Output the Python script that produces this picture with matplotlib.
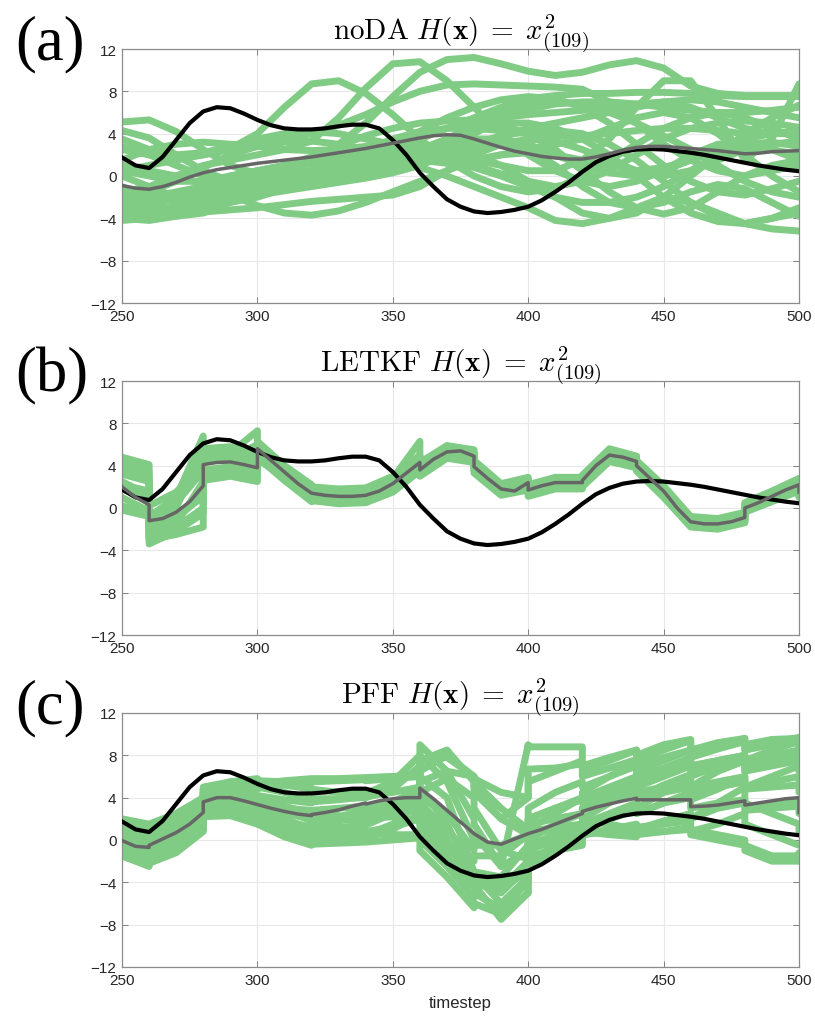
import matplotlib
matplotlib.use("Agg")
import matplotlib.pyplot as plt
import numpy as np

plt.rcParams['mathtext.fontset'] = 'cm'
plt.rcParams['font.family'] = ['Liberation Sans', 'DejaVu Sans']

# truth and (a) ensemble mean, every 5 timesteps from 250 to 500
truth = [1.75, 1.0, 0.75, 1.8, 3.4, 5.0, 6.1, 6.5, 6.4, 5.9, 5.3, 4.8, 4.5, 4.4, 4.4, 4.5,
         4.7, 4.85, 4.85, 4.5, 3.4, 2.0, 0.3, -1.0, -2.2, -2.9, -3.35, -3.5, -3.4, -3.2,
         -2.9, -2.3, -1.5, -0.6, 0.4, 1.3, 1.9, 2.3, 2.5, 2.55, 2.5, 2.35, 2.2, 2.0, 1.75,
         1.5, 1.25, 1.0, 0.8, 0.6, 0.45]
mean_noda = [-0.9, -1.15, -1.25, -1.0, -0.6, -0.1, 0.3, 0.6, 0.8, 1.0, 1.2, 1.35, 1.5, 1.65,
             1.8, 2.0, 2.2, 2.4, 2.6, 2.85, 3.1, 3.35, 3.6, 3.8, 3.9, 3.85, 3.5, 3.1, 2.7,
             2.35, 2.1, 1.85, 1.7, 1.6, 1.6, 1.8, 2.1, 2.45, 2.7, 2.8, 2.8, 2.7, 2.6, 2.5,
             2.4, 2.25, 2.1, 2.15, 2.3, 2.35, 2.4]

# (a) free-running members, every 10 timesteps
members_noda = [
    [5.1, 5.3, 4.2, 2.5, 1.0, 0.2, 0.0, 0.5, 1.5, 2.5, 3.0, 2.8, 2.0, 1.0, 0.2, -0.5, -1.0, -0.5, 0.5, 2.0, 3.5, 4.5, 5.0, 5.2, 5.0, 4.6],
    [4.3, 3.6, 2.0, 0.5, -0.5, -1.0, -1.2, -0.8, 0.2, 1.5, 2.8, 4.2, 5.5, 6.5, 7.2, 7.5, 7.3, 6.5, 5.0, 3.0, 1.0, -0.5, -1.5, -1.8, -1.2, -0.5],
    [2.5, 2.0, 1.8, 2.0, 2.6, 4.0, 6.5, 8.7, 9.0, 7.8, 5.8, 3.5, 1.5, 0.0, -1.0, -1.5, -1.2, 0.0, 1.5, 3.0, 4.5, 5.5, 6.0, 5.5, 4.5, 3.5],
    [-1.5, -1.0, 0.0, 1.0, 1.5, 2.0, 2.5, 3.3, 5.5, 8.3, 10.6, 10.8, 9.0, 6.5, 4.0, 2.0, 0.5, -0.5, -1.0, -0.5, 0.5, 2.0, 3.0, 3.2, 2.5, 1.5],
    [-2.5, -2.0, -1.5, -1.0, -0.5, 0.0, 0.5, 1.5, 3.0, 5.0, 7.5, 9.8, 11.0, 11.2, 10.6, 9.9, 9.5, 9.8, 10.5, 10.9, 10.2, 8.5, 7.8, 7.6, 7.6, 7.6],
    [0.5, 1.0, 1.5, 2.0, 2.5, 3.0, 3.5, 4.0, 4.8, 5.8, 7.0, 8.0, 8.6, 8.7, 8.6, 8.5, 8.4, 8.2, 7.0, 5.0, 3.0, 1.5, 0.5, 0.0, 0.5, 1.0],
    [-3.0, -2.5, -2.0, -1.5, -1.0, -0.5, 0.0, 0.5, 1.0, 1.5, 2.0, 2.2, 2.0, 1.5, 1.0, 0.5, 0.5, 1.5, 3.5, 6.5, 9.0, 9.0, 5.5, 1.5, 3.5, 8.7],
    [-3.8, -3.5, -3.0, -2.5, -2.0, -1.5, -1.0, -0.5, 0.0, 0.5, 1.0, 1.8, 2.8, 4.0, 5.3, 6.3, 6.8, 7.0, 7.0, 6.8, 6.5, 6.2, 6.0, 6.0, 6.2, 6.5],
    [-4.2, -4.0, -3.7, -3.4, -3.2, -3.0, -2.7, -2.4, -2.2, -2.0, -1.8, -1.0, 0.5, 2.0, 3.0, 3.5, 3.3, 2.5, 1.5, 0.5, 0.0, 0.5, 1.5, 2.5, 3.0, 3.3],
    [1.0, 0.5, 0.0, -0.8, -1.8, -2.8, -3.5, -3.7, -3.3, -2.5, -1.5, -0.5, 0.5, 1.5, 2.0, 2.2, 2.0, 1.5, 1.0, 0.5, 0.8, 1.5, 2.5, 3.5, 4.0, 4.2],
    [-3.0, -3.5, -3.2, -2.5, -1.5, -0.5, 0.5, 1.2, 1.8, 2.3, 2.8, 3.5, 4.5, 5.0, 4.8, 4.0, 2.5, 0.5, -1.5, -3.0, -3.6, -3.0, -1.5, 0.0, 1.0, 1.5],
    [0.0, -1.0, -2.0, -2.5, -2.5, -2.0, -1.2, -0.5, 0.3, 1.0, 1.8, 2.5, 3.5, 4.8, 6.0, 6.8, 7.0, 6.8, 6.0, 5.0, 3.8, 2.5, 1.0, -0.5, -1.5, -2.0],
    [-2.0, -3.0, -3.8, -3.5, -2.5, -1.0, 0.5, 1.5, 2.0, 2.3, 2.5, 2.6, 2.5, 2.0, 1.0, -0.5, -2.0, -3.5, -4.0, -3.5, -2.0, 0.0, 2.0, 4.0, 5.5, 6.7],
    [-1.0, -2.0, -2.5, -2.0, -1.0, 0.0, 0.8, 1.2, 1.5, 1.8, 2.0, 2.5, 3.5, 4.5, 5.0, 5.0, 4.5, 3.5, 2.0, 0.0, -2.0, -3.5, -4.3, -4.5, -4.0, -3.5],
    [2.8, 2.0, 1.0, 0.0, -0.5, -0.8, -1.0, -0.8, -0.3, 0.3, 1.0, 2.0, 3.0, 3.5, 3.5, 3.0, 2.0, 1.0, 0.3, 0.0, 0.5, 1.5, 2.5, 3.0, 2.5, 2.0],
    [-3.5, -3.0, -2.0, -1.0, 0.0, 0.5, 1.0, 1.3, 1.5, 1.5, 1.3, 0.8, 0.0, -1.0, -2.0, -3.0, -4.2, -4.5, -4.0, -3.0, -2.0, -2.5, -3.5, -4.5, -5.0, -5.2],
    [-2.5, -3.0, -3.0, -2.5, -1.8, -1.0, -0.3, 0.5, 1.5, 2.5, 3.5, 4.2, 4.5, 4.5, 4.3, 4.0, 3.8, 3.8, 4.0, 4.3, 4.5, 4.5, 4.3, 4.0, 4.0, 4.2],
    [-4.0, -4.2, -3.8, -3.0, -2.0, -1.2, -0.5, 0.0, 0.5, 1.0, 1.5, 1.8, 1.5, 0.8, 0.0, -1.0, -2.0, -2.5, -2.5, -2.0, -1.0, 0.5, 2.0, 3.0, 3.2, 2.8],
    [0.5, 0.0, -0.5, -0.5, 0.0, 0.5, 1.0, 1.8, 2.8, 3.8, 4.5, 5.0, 5.2, 5.3, 5.5, 5.8, 6.0, 6.2, 6.5, 6.8, 7.0, 6.5, 5.5, 4.5, 4.0, 4.0],
    [-3.0, -3.2, -3.0, -2.6, -2.2, -1.8, -1.4, -1.0, -0.6, -0.2, 0.3, 1.0, 2.0, 3.0, 3.8, 4.2, 4.3, 4.0, 3.0, 1.5, -0.5, -2.5, -3.8, -4.5, -4.0, -3.0],
    [1.5, 2.5, 3.0, 3.2, 3.0, 2.8, 2.5, 2.4, 2.5, 2.8, 3.2, 3.8, 4.5, 5.5, 6.5, 7.3, 7.6, 7.8, 7.8, 7.9, 7.9, 7.8, 7.6, 7.5, 7.5, 7.5],
    [-2.0, -1.5, -0.5, 0.8, 2.0, 2.8, 3.2, 3.3, 3.0, 2.5, 2.0, 1.5, 1.2, 1.5, 2.0, 2.5, 3.0, 3.5, 4.5, 5.5, 6.0, 5.5, 4.0, 2.0, 0.0, -1.5],
    [-1.2, -1.8, -2.2, -2.0, -1.5, -1.0, -0.5, 0.0, 0.3, 0.5, 0.8, 1.2, 1.8, 2.5, 3.0, 2.5, 1.0, -1.0, -2.5, -3.0, -2.5, -1.5, -0.8, -1.2, -2.5, -3.8],
    [3.5, 2.5, 2.0, 2.2, 2.8, 3.5, 4.0, 4.2, 4.0, 3.5, 3.0, 2.5, 2.5, 3.0, 3.8, 4.5, 5.0, 5.5, 6.0, 6.5, 7.0, 7.2, 7.0, 6.5, 6.0, 5.5],
]

# (b),(c) ensemble means: every 5 timesteps, two values (before/after update) at each analysis time
mean_letkf = [2.0, 1.0, 0.3, -1.2, -1.0, -0.4, 0.6, 2.1, 4.1, 4.3, 4.35, 4.1, 3.8, 5.6,
              4.5, 3.4, 2.3, 1.4, 1.4, 1.2, 1.1, 1.1, 1.2, 1.2, 1.6, 2.3, 3.3, 4.3, 3.6,
              4.6, 5.3, 5.4, 4.9, 3.9, 2.8, 1.8, 1.6, 2.4, 1.7, 2.1, 2.4, 2.4, 2.4, 2.6,
              4.0, 5.0, 4.8, 4.4, 4.0, 2.8, 1.6, 0.0, -1.3, -1.3, -1.5, -1.5, -1.3, -0.9,
              0.0, 0.5, 1.1, 1.7, 2.2, 1.5]
mean_pff = [-0.05, -0.6, -0.7, -0.5, 0.1, 0.7, 1.5, 2.6, 3.6, 4.0, 4.0, 3.7, 3.35, 3.35,
            3.0, 2.7, 2.45, 2.3, 2.4, 2.6, 2.85, 3.2, 3.5, 3.4, 3.7, 3.9, 4.0, 4.0, 4.9,
            3.9, 2.8, 1.7, 0.6, 0.6, -0.2, -0.4, 0.1, 0.6, 0.6, 1.0, 1.5, 2.0, 2.5, 2.7,
            3.1, 3.4, 3.7, 3.95, 3.8, 3.8, 3.8, 3.8, 3.8, 3.15, 3.2, 3.3, 3.5, 3.7, 3.3,
            3.5, 3.7, 3.9, 4.0, 2.6]

# (b),(c) members: every 10 timesteps, two values at each analysis time
members_letkf = [
    [4.8, 4.1, -1.0, 0.5, 3.5, 5.6, 5.8, 5.0, 6.3, 4.0, 2.2, 2.0, 1.8, 1.9, 1.9, 3.0, 5.0, 4.3, 5.9, 5.5, 4.5, 2.3, 2.9, 2.2, 2.9, 2.9, 3.1, 5.6, 4.9, 4.5, 2.1, -0.8, -0.8, -1.0, -0.4, 0.5, 1.6, 2.8, 2.0],
    [-0.2, -0.8, -3.4, -2.2, -0.5, 2.6, 3.0, 2.5, 4.8, 2.6, 0.6, 0.7, 0.4, 0.5, 0.5, 1.5, 3.5, 3.0, 4.7, 4.3, 3.3, 1.2, 1.7, 1.1, 1.8, 1.8, 2.0, 4.4, 3.8, 3.5, 1.0, -1.8, -1.8, -2.0, -1.4, -0.4, 0.6, 1.6, 1.0],
    [3.2, 2.5, -0.8, 1.0, 6.8, 5.0, 5.2, 7.3, 5.2, 3.9, 2.0, 1.8, 1.5, 1.6, 1.5, 2.8, 6.3, 4.0, 5.6, 5.2, 4.2, 2.1, 2.7, 2.0, 2.6, 2.6, 2.9, 5.3, 4.6, 4.3, 1.9, -1.0, -1.1, -1.3, -0.6, 0.3, 1.3, 2.6, 1.8],
    [1.0, -0.3, -2.8, -1.8, 0.0, 3.2, 3.6, 3.0, 5.0, 2.8, 0.8, 0.9, 0.6, 0.8, 0.8, 1.8, 3.8, 3.2, 4.9, 4.5, 3.6, 1.4, 2.0, 1.4, 2.1, 2.1, 2.3, 4.7, 4.1, 3.7, 1.3, -1.6, -1.6, -1.8, -1.2, -0.2, 0.8, 1.9, 1.2],
    [2.5, 1.2, -2.2, -1.0, 1.2, 4.8, 4.8, 4.3, 5.9, 3.7, 1.7, 1.6, 1.3, 1.4, 1.4, 2.5, 4.6, 3.8, 5.5, 5.1, 4.1, 2.0, 2.5, 1.9, 2.6, 2.6, 2.8, 5.2, 4.6, 4.2, 1.8, -1.1, -1.1, -1.3, -0.7, 0.2, 1.3, 2.4, 1.7],
    [0.2, -0.5, -1.8, -0.6, 1.0, 3.6, 3.9, 3.4, 5.3, 3.1, 1.0, 1.1, 0.8, 0.9, 0.9, 2.0, 4.0, 3.4, 5.1, 4.7, 3.7, 1.6, 2.2, 1.5, 2.2, 2.2, 2.4, 4.8, 4.2, 3.8, 1.4, -1.5, -1.5, -1.7, -1.1, -0.2, 0.9, 2.0, 1.3],
    [3.8, 2.8, 0.2, 1.5, 4.2, 4.4, 4.6, 4.1, 5.8, 3.5, 1.6, 1.3, 1.2, 1.3, 1.3, 2.4, 4.5, 3.7, 5.4, 5.0, 4.0, 1.9, 2.4, 1.8, 2.5, 2.5, 2.7, 5.1, 4.5, 4.1, 1.7, -1.2, -1.2, -1.4, -0.8, 0.1, 1.2, 2.3, 1.6],
    [1.8, 0.8, -3.0, -2.5, -1.8, 3.0, 3.3, 4.3, 4.6, 2.9, 0.9, 1.0, 0.7, 0.7, 0.7, 1.7, 3.7, 3.1, 4.8, 4.4, 3.5, 1.3, 1.9, 1.3, 2.0, 2.0, 2.2, 4.6, 4.0, 3.6, 1.2, -1.7, -1.7, -1.9, -1.3, -0.3, 0.7, 1.8, 1.1],
    [2.2, 1.6, -1.5, 0.0, 5.5, 4.5, 4.7, 6.0, 5.4, 3.3, 1.5, 1.5, 1.0, 1.1, 1.1, 2.2, 4.3, 3.6, 5.3, 4.9, 3.9, 1.8, 2.4, 1.7, 2.4, 2.4, 2.6, 5.0, 4.4, 4.0, 1.6, -1.3, -1.3, -1.5, -0.9, 0.0, 1.1, 2.2, 1.5],
    [4.3, 3.5, -2.5, -1.5, 2.5, 5.2, 5.3, 4.6, 6.0, 3.8, 1.9, 1.7, 1.5, 1.6, 1.6, 2.7, 4.8, 4.1, 5.7, 5.3, 4.3, 2.2, 2.8, 2.1, 2.8, 2.8, 3.0, 5.4, 4.8, 4.4, 2.0, -0.9, -0.9, -1.1, -0.5, 0.4, 1.5, 2.6, 1.9],
]
members_pff = [
    [0.5, -0.2, 0.2, 1.5, 3.5, 4.5, 5.0, 4.8, 4.9, 5.2, 5.5, 5.5, 5.6, 5.7, 5.6, 5.8, 6.0, 7.5, 8.5, 5.5, 4.5, 2.0, 4.0, 6.7, 6.8, 7.2, 6.0, 6.8, 7.6, 7.0, 7.8, 8.5, 7.8, 8.6, 9.3, 8.5, 9.0, 9.5, 8.8],
    [1.8, 1.0, 1.2, 2.0, 3.0, 4.0, 5.5, 5.6, 5.6, 5.5, 5.4, 5.5, 5.7, 5.8, 5.8, 6.0, 6.2, 9.0, 6.5, 2.0, 1.5, -2.5, 9.0, 8.8, 8.8, 8.8, 7.0, 7.8, 8.5, 7.5, 8.5, 9.4, 8.0, 8.8, 9.6, 8.5, 9.2, 9.7, 8.3],
    [-1.5, -2.5, -2.2, -1.0, 1.0, 3.0, 2.5, 1.5, 1.6, 0.7, 0.0, 0.1, 0.2, 0.5, 0.5, 1.5, 3.5, 2.0, -2.0, -4.5, -4.0, -5.0, -2.5, -1.5, -1.0, -0.5, 0.5, 1.0, 1.5, 1.2, 1.5, 1.8, 1.0, 0.5, 0.0, -0.5, -1.5, -1.5, -1.2],
    [-1.0, -2.0, -1.8, -0.5, 1.5, 3.5, 3.8, 3.0, 3.1, 2.0, 1.0, 1.1, 1.2, 1.4, 1.4, 2.5, 4.5, 3.5, 0.0, -4.0, -4.2, -7.5, -5.0, -2.0, -0.5, 0.5, 1.0, 2.0, 3.0, 2.5, 3.5, 4.5, 3.8, 4.8, 6.0, 5.0, 6.0, 7.0, 6.5],
    [0.8, 0.2, 0.4, 1.5, 3.0, 4.2, 4.5, 4.2, 4.2, 3.8, 3.5, 3.6, 3.8, 4.1, 4.1, 4.5, 5.0, 6.0, 4.0, -3.0, -3.0, -4.5, -2.0, 0.5, 1.0, 1.5, 2.0, 3.5, 5.0, 4.0, 5.2, 6.2, 5.0, 5.5, 6.0, 5.0, 5.5, 6.0, 5.2],
    [0.0, -1.0, -0.8, 0.5, 2.5, 3.8, 4.2, 3.5, 3.5, 2.5, 2.0, 2.0, 2.2, 2.8, 2.8, 3.5, 4.2, 3.5, 1.0, -2.0, -1.5, -1.5, 0.5, 2.0, 3.0, 3.8, 4.0, 5.0, 6.0, 5.5, 6.5, 7.5, 6.5, 7.5, 8.0, 7.2, 8.0, 8.5, 7.0],
    [1.2, 0.5, 0.8, 2.0, 3.8, 4.8, 5.2, 5.0, 5.0, 4.5, 3.8, 3.9, 3.9, 4.0, 4.0, 4.8, 7.0, 5.0, 1.5, -3.5, -3.0, -3.5, -0.5, 0.8, 1.2, 1.5, 1.8, 1.5, 1.0, 1.0, 1.5, 2.5, 2.0, 3.5, 5.0, 3.5, 2.5, 1.5, 0.8],
    [-0.5, -1.5, -1.3, 0.0, 2.0, 3.2, 3.5, 2.8, 2.8, 1.5, 0.3, 0.4, 0.0, 0.2, 0.2, 1.0, 2.5, 1.5, -1.0, -3.0, -3.2, -6.0, -3.5, -1.0, 0.5, 1.2, 1.5, 2.5, 3.5, 3.0, 4.5, 6.0, 5.0, 6.5, 7.5, 6.5, 7.5, 8.2, 7.6],
    [2.0, 1.5, 1.5, 2.5, 4.0, 5.0, 5.5, 5.8, 5.6, 5.2, 4.8, 4.8, 4.5, 4.4, 4.4, 5.5, 8.0, 6.5, 8.0, 6.0, 5.5, 3.0, 1.0, 1.0, 2.5, 4.0, 4.5, 6.0, 7.5, 6.5, 7.5, 8.5, 7.0, 7.5, 8.0, 7.0, 7.8, 8.5, 7.5],
    [-1.2, -2.2, -2.0, -0.8, 1.0, 2.5, 2.8, 2.2, 2.2, 1.0, 0.5, 0.6, 0.6, 0.8, 0.8, 1.2, 2.0, 1.0, -1.5, -3.5, -3.5, -4.0, -2.5, -0.5, 0.0, 0.2, 0.8, 0.5, 0.3, 0.5, 0.8, 1.2, 0.5, 0.0, -0.5, -1.0, -2.0, -2.0, -1.8],
    [0.3, -0.5, -0.3, 1.0, 2.8, 4.0, 4.5, 3.8, 3.8, 3.2, 2.5, 2.6, 2.3, 2.0, 2.0, 2.2, 3.0, 8.0, 5.5, 0.0, 0.5, -2.5, -1.0, 3.0, 4.5, 5.5, 5.0, 6.0, 7.0, 6.0, 6.8, 7.8, 7.0, 7.5, 7.8, 7.0, 7.2, 7.5, 6.5],
    [-0.8, -1.8, -1.5, -0.2, 1.8, 3.0, 3.0, 2.0, 2.0, 1.0, 0.2, 0.3, 0.5, 0.6, 0.6, 0.5, 0.5, 0.0, -2.5, -5.5, -5.0, -6.5, -4.0, -0.5, 0.5, 1.2, 1.0, 2.0, 2.8, 2.5, 3.5, 4.0, 3.0, 3.5, 3.8, 3.0, 3.5, 3.8, 3.0],
    [1.5, 0.8, 1.0, 2.2, 4.0, 4.8, 5.2, 5.3, 5.3, 5.6, 5.8, 5.8, 5.8, 5.9, 5.9, 6.0, 6.0, 5.5, 6.5, 6.0, 5.8, 4.5, 4.0, 5.5, 6.5, 7.5, 6.5, 7.5, 8.5, 8.0, 9.0, 9.5, 8.5, 9.2, 9.6, 9.0, 9.5, 9.6, 9.0],
    [0.5, -0.3, 0.0, 1.2, 3.0, 4.2, 4.6, 4.0, 4.0, 2.8, 1.8, 1.9, 2.0, 2.3, 2.3, 3.0, 4.0, 3.0, -1.0, -3.5, -3.5, -4.5, -3.0, -1.0, 0.0, 0.5, 1.0, 0.8, 0.6, 0.6, 0.8, 1.0, 0.8, 1.5, 2.5, 1.5, 0.5, -0.5, -0.5],
    [1.0, 0.0, 0.3, 1.8, 3.5, 4.5, 4.0, 3.0, 3.0, 1.8, 1.2, 1.3, 1.8, 2.2, 2.2, 2.8, 3.8, 4.5, 5.8, 4.0, 3.0, -1.0, -1.8, 0.0, 1.5, 2.5, 3.0, 4.0, 5.0, 4.5, 5.0, 5.5, 5.0, 6.5, 7.5, 6.5, 7.0, 7.5, 6.8],
    [-1.5, -2.4, -2.2, -1.2, 0.8, 2.2, 2.3, 1.5, 1.5, 0.3, -0.5, -0.4, -0.3, -0.2, -0.2, 0.0, 0.2, -1.0, -3.5, -6.4, -6.0, -7.0, -5.0, -2.5, -1.0, 0.0, 0.5, 0.8, 1.0, 1.0, 1.8, 2.5, 2.0, 3.0, 3.5, 2.8, 3.0, 3.2, 2.5],
    [0.2, -0.8, -0.5, 0.8, 2.6, 3.8, 4.0, 3.6, 3.6, 3.0, 2.8, 2.8, 3.0, 3.2, 3.2, 3.6, 4.8, 4.0, 2.5, -1.0, -0.5, -0.5, 0.5, 1.5, 2.0, 2.5, 3.0, 3.8, 4.5, 4.0, 4.5, 5.0, 4.5, 5.0, 5.5, 4.8, 5.0, 5.2, 4.5],
    [-0.3, -1.2, -1.0, 0.3, 2.2, 3.5, 4.0, 3.5, 3.5, 2.8, 2.2, 2.2, 2.0, 1.8, 1.8, 2.5, 3.5, 7.5, 7.8, 6.0, 5.0, 2.0, 0.5, 2.0, 3.0, 4.0, 3.5, 4.5, 5.5, 5.0, 6.0, 7.0, 6.0, 7.0, 8.0, 7.5, 8.5, 9.3, 8.5],
]

titles = [r'$\mathrm{noDA}\ H(\mathbf{x})\;=\;x^2_{(109)}$',
          r'$\mathrm{LETKF}\ H(\mathbf{x})\;=\;x^2_{(109)}$',
          r'$\mathrm{PFF}\ H(\mathbf{x})\;=\;x^2_{(109)}$']
panel_labels = ['(a)', '(b)', '(c)']


def time_axis(step, analysis=()):
    # repeat the analysis times so the update shows as a vertical jump
    t = []
    for v in range(250, 501, step):
        t.append(v)
        if v in analysis:
            t.append(v)
    return np.array(t)


obs_times = set(range(260, 501, 20))
t5 = time_axis(5)
t10 = time_axis(10)
t5_da = time_axis(5, obs_times)
t10_da = time_axis(10, obs_times)

green = (0.5, 0.8, 0.52)
grey = '#666666'

panels = [
    (t10, members_noda, t5, mean_noda),
    (t10_da, members_letkf, t5_da, mean_letkf),
    (t10_da, members_pff, t5_da, mean_pff),
]
tops_px = [50, 382, 714]

fig = plt.figure(figsize=(8.15, 10.2), dpi=100)
for i, (tm, members, tmean, mean) in enumerate(panels):
    top = 1 - tops_px[i] / 1020
    ax = fig.add_axes([122 / 815, top - 254 / 1020, 677 / 815, 254 / 1020])
    for m in members:
        ax.plot(tm, m, color=green, lw=5, solid_joinstyle='round', solid_capstyle='round', zorder=2)
    ax.plot(t5, truth, color='black', lw=3.0, solid_joinstyle='round', zorder=3)
    ax.plot(tmean, mean, color=grey, lw=2.5, solid_joinstyle='round', zorder=4)

    ax.set_xlim(250, 500)
    ax.set_ylim(-12, 12)
    ax.set_xticks(np.arange(250, 501, 50))
    ax.set_yticks(np.arange(-12, 13, 4))
    ax.grid(True, color='#e8e8e8', lw=0.8, zorder=0)
    ax.set_axisbelow(True)
    ax.tick_params(direction='in', length=4, width=0.7, colors='#808080',
                   labelcolor='#262626', labelsize=11, top=True, right=True, pad=4)
    for s in ax.spines.values():
        s.set_color('#8c8c8c')
        s.set_linewidth(0.9)
    ax.set_title(titles[i], fontsize=21, pad=7, color='black')
    fig.text(15 / 815, 1 - (tops_px[i] + 9) / 1020, panel_labels[i],
             family='Liberation Serif', fontsize=45, ha='left', va='baseline')
    if i == 2:
        ax.set_xlabel('timestep', fontsize=12, color='#262626', labelpad=6)

fig.savefig('out.png', dpi=100)
